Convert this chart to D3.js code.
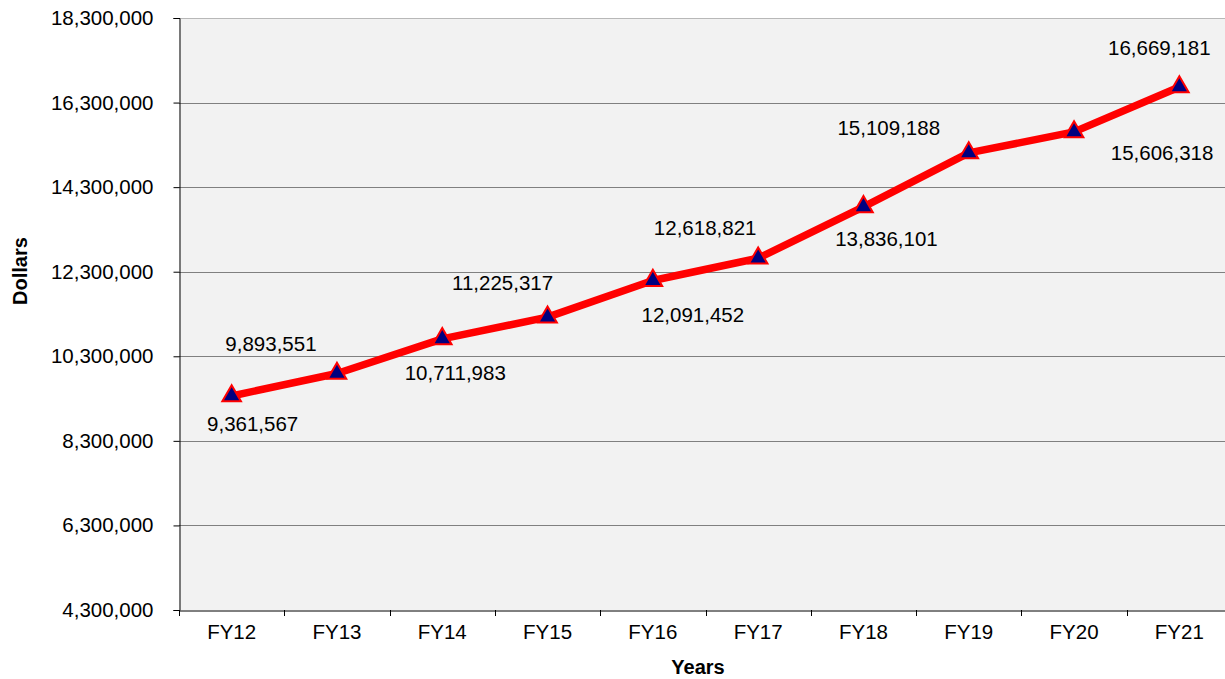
<!DOCTYPE html>
<html>
<head>
<meta charset="utf-8">
<script src="https://cdn.jsdelivr.net/npm/d3@7"></script>
<style>
  html, body { margin: 0; padding: 0; background: #fff; overflow: hidden; }
  svg { display: block; font-family: "Liberation Sans", Arial, sans-serif; }
</style>
</head>
<body>
<div id="app"></div>
<script>
const years = ["FY12", "FY13", "FY14", "FY15", "FY16", "FY17", "FY18", "FY19", "FY20", "FY21"];
const dollars = [9361567, 9893551, 10711983, 11225317, 12091452, 12618821, 13836101, 15109188, 15606318, 16669181];
const yTicks = [4300000, 6300000, 8300000, 10300000, 12300000, 14300000, 16300000, 18300000];

// label placement (px offset from the point), as moved in the original
const labelDx = [21, -66, 13, -45, 40, -53, 23, -80, 88, -20];
const labelDy = [28, -30, 34, -34, 34, -30, 32, -25, 21, -39];

const chart = () => {
  const width = 1225;
  const height = 679;
  const marginTop = 18;
  const marginBottom = 69;
  const marginLeft = 179;
  const plotRight = 1232;

  const svg = d3.create("svg").attr("width", width).attr("height", height);

  const x = d3.scaleBand().domain(years).range([marginLeft, plotRight]);
  const y = d3.scaleLinear()
    .domain([4300000, 18300000])
    .range([height - marginBottom, marginTop]);

  svg.append("rect")
    .attr("x", marginLeft)
    .attr("y", marginTop)
    .attr("width", plotRight - marginLeft)
    .attr("height", y(4300000) - marginTop)
    .attr("fill", "#f2f2f2");

  // gridlines
  svg.append("g")
    .selectAll("line")
    .data(yTicks.slice(1))
    .join("line")
    .attr("x1", marginLeft)
    .attr("x2", plotRight)
    .attr("y1", (d) => Math.round(y(d)) + 0.5)
    .attr("y2", (d) => Math.round(y(d)) + 0.5)
    .attr("stroke", (d) => (d === 18300000 ? "#b8b8b8" : "#808080"))
    .attr("stroke-width", 1);

  const fmt = d3.format(",");

  const yAxis = svg.append("g")
    .attr("transform", `translate(${marginLeft + 0.5},0)`)
    .call(d3.axisLeft(y).tickValues(yTicks).tickFormat(fmt).tickSize(6).tickPadding(20));
  yAxis.select(".domain").attr("stroke", "#000");
  yAxis.selectAll(".tick line").attr("stroke", "#000");
  yAxis.selectAll(".tick text")
    .attr("font-size", "20.5px")
    .attr("fill", "#000")
    .attr("font-family", "Liberation Sans, Arial, sans-serif");

  const xAxis = svg.append("g")
    .attr("transform", `translate(0,${Math.round(y(4300000)) + 0.5})`)
    .call(d3.axisBottom(x).tickSize(0).tickPadding(14));
  xAxis.select(".domain").attr("stroke", "#000");
  xAxis.selectAll(".tick text")
    .attr("font-size", "20.5px")
    .attr("fill", "#000")
    .attr("font-family", "Liberation Sans, Arial, sans-serif");

  // category separators
  svg.append("g")
    .selectAll("line")
    .data(years)
    .join("line")
    .attr("x1", (d) => Math.round(x(d)) + 0.5)
    .attr("x2", (d) => Math.round(x(d)) + 0.5)
    .attr("y1", y(4300000))
    .attr("y2", y(4300000) + 6)
    .attr("stroke", "#000");

  const line = d3.line()
    .x((d, i) => x(years[i]) + x.bandwidth() / 2)
    .y((d) => y(d));

  svg.append("path")
    .datum(dollars)
    .attr("fill", "none")
    .attr("stroke", "#ff0000")
    .attr("stroke-width", 7.5)
    .attr("stroke-linejoin", "round")
    .attr("d", line);

  const tri = d3.symbol().type(d3.symbolTriangle).size(150);

  svg.append("g")
    .selectAll("path")
    .data(dollars)
    .join("path")
    .attr("d", tri)
    .attr("transform", (d, i) => `translate(${x(years[i]) + x.bandwidth() / 2},${y(d)})`)
    .attr("fill", "#000080")
    .attr("stroke", "#ff0000")
    .attr("stroke-width", 2);

  svg.append("g")
    .selectAll("text")
    .data(dollars)
    .join("text")
    .attr("x", (d, i) => x(years[i]) + x.bandwidth() / 2 + labelDx[i])
    .attr("y", (d, i) => y(d) + labelDy[i])
    .attr("dy", "0.35em")
    .attr("text-anchor", "middle")
    .attr("font-size", "20.5px")
    .attr("fill", "#000")
    .text((d) => fmt(d));

  svg.append("text")
    .text("Dollars")
    .attr("transform", `translate(27,271) rotate(-90)`)
    .attr("text-anchor", "middle")
    .attr("font-size", "20px")
    .attr("font-weight", "bold");

  svg.append("text")
    .text("Years")
    .attr("x", 698)
    .attr("y", 674)
    .attr("text-anchor", "middle")
    .attr("font-size", "20px")
    .attr("font-weight", "bold");

  return svg.node();
};

d3.select("#app").append(chart);
</script>
</body>
</html>
